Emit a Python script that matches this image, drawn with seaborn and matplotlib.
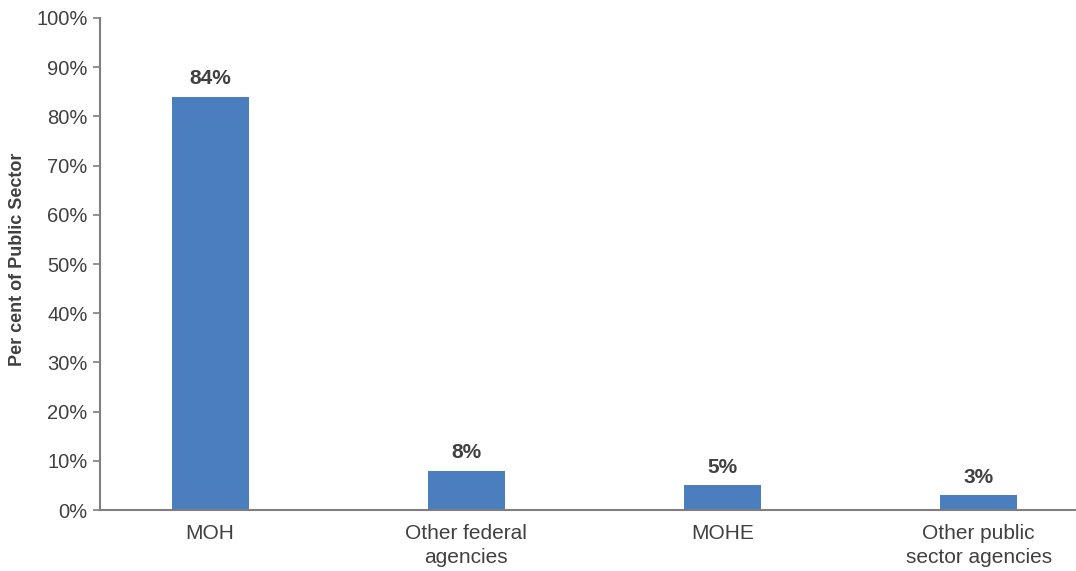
import matplotlib
matplotlib.use("Agg")
import matplotlib.pyplot as plt
from matplotlib.ticker import FuncFormatter
import seaborn as sns
import pandas as pd

categories = ["MOH", "Other federal\nagencies", "MOHE", "Other public\nsector agencies"]
shares = [84, 8, 5, 3]
y_ticks = [0, 10, 20, 30, 40, 50, 60, 70, 80, 90, 100]

sns.set_theme(style="white")
plt.rcParams["font.family"] = ["Liberation Sans", "DejaVu Sans"]

text_color = "#404040"
bar_color = "#4a7ebf"
spine_color = "#7f7f7f"

df = pd.DataFrame({"category": categories, "share": shares})

fig = plt.figure(figsize=(10.76, 5.71), dpi=100)
ax = fig.add_axes([0.0929, 0.1068, 0.9071, 0.8617])

sns.barplot(data=df, x="category", y="share", color=bar_color, width=0.3,
            saturation=1, linewidth=0, ax=ax)

for i, v in enumerate(shares):
    ax.text(i, v + 1.7, f"{v}%", ha="center", va="bottom", fontsize=15,
            fontweight="bold", color=text_color)

ax.set_ylim(0, 100)
ax.set_xlim(-0.43, 3.38)
ax.set_yticks(y_ticks)
ax.yaxis.set_major_formatter(FuncFormatter(lambda v, p: f"{v:.0f}%"))
ax.tick_params(axis="y", labelsize=14.5, labelcolor=text_color, length=5,
               width=1.2, color=spine_color, left=True, pad=4)
ax.tick_params(axis="x", labelsize=15, labelcolor=text_color, length=0, pad=10)

for lbl in ax.get_xticklabels():
    lbl.set_linespacing(1.35)

ax.set_xlabel("")
ax.set_ylabel("Per cent of Public Sector", fontsize=13, fontweight="bold",
              color=text_color, labelpad=4)
ax.yaxis.set_label_coords(-0.076, 0.51)

for side in ["top", "right"]:
    ax.spines[side].set_visible(False)
for side in ["left", "bottom"]:
    ax.spines[side].set_color(spine_color)
    ax.spines[side].set_linewidth(1.5)

fig.savefig("out.png", dpi=100)
